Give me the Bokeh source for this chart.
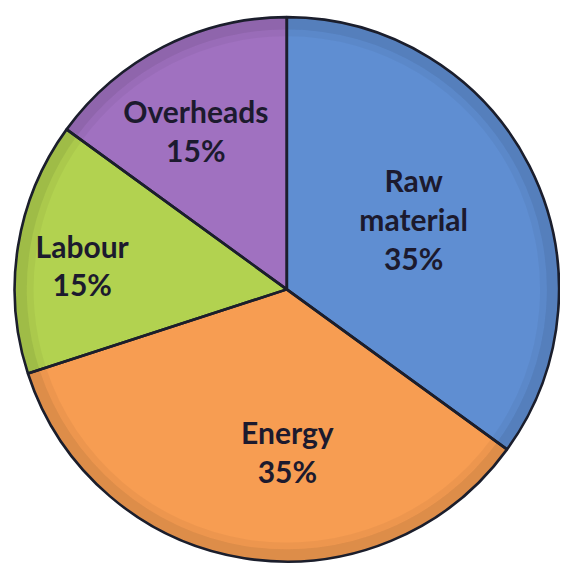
import math
from bokeh.plotting import figure
from bokeh.models import Range1d, ColumnDataSource
from bokeh.core.properties import value
from bokeh.embed import file_html
from bokeh.resources import INLINE

# ---- data ----
categories = ["Raw material", "Energy", "Labour", "Overheads"]
shares = [35, 35, 15, 15]
label_lines = [["Raw", "material", "35%"], ["Energy", "35%"], ["Labour", "15%"], ["Overheads", "15%"]]
colors = ["#5F8ED2", "#F79D52", "#B2D250", "#A071C0"]

# ---- layout constants ----
R = 280
label_radius_frac = [0.532, 0.596, 0.757, 0.673]
label_angle_shift = [-1.9, -9.2, -2.2, -2.8]   # degrees
line_gap = 40

total = sum(shares)
starts, ends, mids = [], [], []
cum = 0.0
for s in shares:
    a0 = cum / total * 2 * math.pi
    cum += s
    a1 = cum / total * 2 * math.pi
    # bokeh angles run CCW from +x; this pie runs clockwise from 12 o'clock
    starts.append(math.pi / 2 - a0)
    ends.append(math.pi / 2 - a1)
    mids.append((a0 + a1) / 2)

src = ColumnDataSource(dict(cat=categories, start=starts, end=ends, color=colors))

p = figure(width=560, height=569, output_backend="svg", toolbar_location=None,
           x_range=Range1d(-294.5, 281.5), y_range=Range1d(-288, 297), min_border=0)
p.axis.visible = False
p.grid.visible = False
p.outline_line_color = None
p.background_fill_color = "white"
p.border_fill_color = "white"

p.wedge(x=0, y=0, radius=R, start_angle="start", end_angle="end", direction="clock",
        fill_color="color", line_color=None, source=src)

# soft bevel: darker rim
p.annular_wedge(x=0, y=0, inner_radius=R * 0.955, outer_radius=R, start_angle="start", end_angle="end",
                direction="clock", fill_color="black", fill_alpha=0.10, line_color=None, source=src)
p.annular_wedge(x=0, y=0, inner_radius=R * 0.93, outer_radius=R * 0.955, start_angle="start", end_angle="end",
                direction="clock", fill_color="black", fill_alpha=0.04, line_color=None, source=src)

p.wedge(x=0, y=0, radius=R, start_angle="start", end_angle="end", direction="clock",
        fill_color=None, line_color="#1B1E2C", line_width=2.6, source=src)

tx, ty, tt = [], [], []
for i, lines in enumerate(label_lines):
    ang = mids[i] + math.radians(label_angle_shift[i])
    r = R * label_radius_frac[i]
    cx = r * math.sin(ang)
    cy = r * math.cos(ang)
    n = len(lines)
    for k, t in enumerate(lines):
        tx.append(cx)
        ty.append(cy + ((n - 1) / 2 - k) * line_gap)
        tt.append(t)

p.text(x=tx, y=ty, text=tt, text_align="center", text_baseline="middle",
       text_font=value("Lato"), text_font_size="30px", text_font_style="bold",
       text_color="#1C1A2E")

open("out.html", "w").write(file_html(p, INLINE))
